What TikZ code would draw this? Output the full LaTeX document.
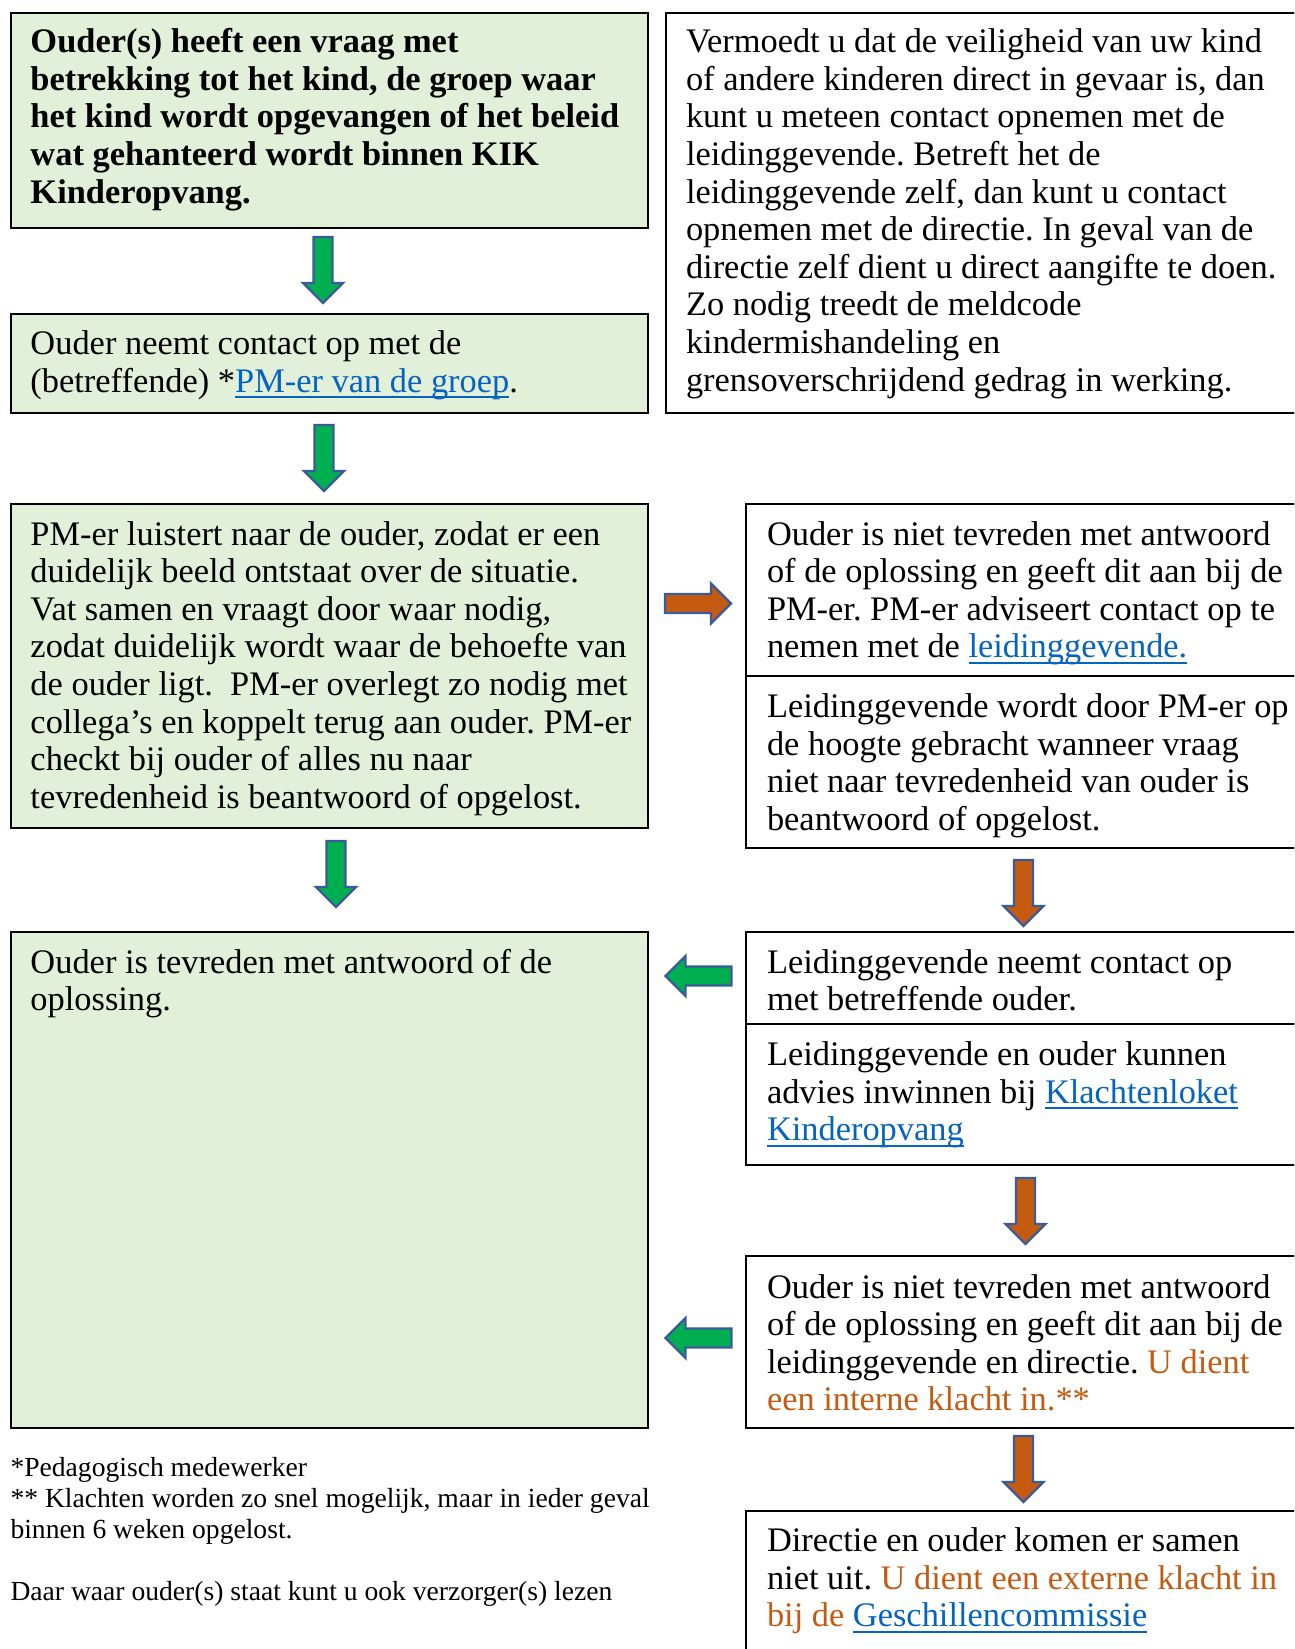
\documentclass[tikz,border=0pt]{standalone}
\usepackage{fontspec}
\setmainfont{Liberation Serif}
\usepackage{xcolor}
\frenchspacing
\definecolor{boxgreen}{HTML}{E2EFD9}
\definecolor{arrgreen}{HTML}{00B050}
\definecolor{arrorange}{HTML}{C55A11}
\definecolor{arrborder}{HTML}{3A5A9A}
\definecolor{linkblue}{HTML}{0563C1}
\definecolor{txtorange}{HTML}{C55A11}
\newcommand{\lnk}[1]{\textcolor{linkblue}{\setbox0\hbox{#1}\rlap{\rule[-6pt]{\wd0}{1.8pt}}\box0}}
\newcommand{\otx}[1]{\textcolor{txtorange}{#1}}
\newcommand{\arrdown}[3]{\draw[blockarrow,fill=#1] (#2-9.5,#3) -- (#2+9.5,#3) -- (#2+9.5,#3+46) -- (#2+20,#3+46) -- (#2,#3+66) -- (#2-20,#3+46) -- (#2-9.5,#3+46) -- cycle;}
\newcommand{\arrright}[3]{\draw[blockarrow,fill=#1] (#2,#3-9.5) -- (#2+46,#3-9.5) -- (#2+46,#3-20) -- (#2+66,#3) -- (#2+46,#3+20) -- (#2+46,#3+9.5) -- (#2,#3+9.5) -- cycle;}
\newcommand{\arrleft}[3]{\draw[blockarrow,fill=#1] (#2,#3) -- (#2+20,#3-20) -- (#2+20,#3-9.5) -- (#2+66,#3-9.5) -- (#2+66,#3+9.5) -- (#2+20,#3+9.5) -- (#2+20,#3+20) -- cycle;}
\begin{document}
\begin{tikzpicture}[x=1pt,y=-1pt,
  box/.style={draw=black,line width=2pt,anchor=north west,inner sep=0,outer sep=0},
  gbox/.style={box,fill=boxgreen},
  txt/.style={inner sep=0,outer sep=0,anchor=base west,align=left,font=\fontsize{34.4}{37.6}\selectfont},
  smalltxt/.style={inner sep=0,outer sep=0,anchor=base west,align=left,font=\fontsize{27.6}{31}\selectfont},
  blockarrow/.style={draw=arrborder,line width=2.4pt,line join=miter}]
\clip (0,0) rectangle (1294,1649);
\fill[white] (0,0) rectangle (1294,1649);
% boxes
\node[gbox,minimum width=637.5pt,minimum height=215.4pt] (b1) at (10.5,12.6) {};
\node[box,fill=white,minimum width=660pt,minimum height=400.8pt] (tr) at (666,12.6) {};
\node[gbox,minimum width=637.5pt,minimum height=99.9pt] (b2) at (10.5,313.5) {};
\node[gbox,minimum width=637.5pt,minimum height=324pt] (b3) at (10.5,504) {};
\node[box,fill=white,minimum width=580pt,minimum height=172pt] (ra) at (746,504) {};
\node[box,fill=white,minimum width=580pt,minimum height=172pt] (rb) at (746,676) {};
\node[gbox,minimum width=637.5pt,minimum height=495.6pt] (b4) at (10.5,932) {};
\node[box,fill=white,minimum width=580pt,minimum height=91.6pt] (rc) at (746,932) {};
\node[box,fill=white,minimum width=580pt,minimum height=141pt] (rd) at (746,1023.6) {};
\node[box,fill=white,minimum width=580pt,minimum height=171.6pt] (re) at (746,1256) {};
\node[box,fill=white,minimum width=580pt,minimum height=200pt] (rf) at (746,1510.7) {};
% texts
\node[txt] (t1) at (30.5,52.6) {\parbox[t]{620pt}{\raggedright\bfseries Ouder(s) heeft een vraag met\\betrekking tot het kind, de groep waar\\het kind wordt opgevangen of het beleid\\wat gehanteerd wordt binnen KIK\\Kinderopvang.}};
\node[txt] (ttr) at (686,52.6) {\parbox[t]{605pt}{\raggedright Vermoedt u dat de veiligheid van uw kind\\of andere kinderen direct in gevaar is, dan\\kunt u meteen contact opnemen met de\\leidinggevende. Betreft het de\\leidinggevende zelf, dan kunt u contact\\opnemen met de directie. In geval van de\\directie zelf dient u direct aangifte te doen.\\Zo nodig treedt de meldcode\\kindermishandeling en\\grensoverschrijdend gedrag in werking.}};
\node[txt] (t2) at (30.5,354.5) {\parbox[t]{620pt}{\raggedright Ouder neemt contact op met de\\(betreffende) *\lnk{PM-er van de groep}.}};
\node[txt] (t3) at (30.5,545) {\parbox[t]{620pt}{\raggedright PM-er luistert naar de ouder, zodat er een\\duidelijk beeld ontstaat over de situatie.\\Vat samen en vraagt door waar nodig,\\zodat duidelijk wordt waar de behoefte van\\de ouder ligt.\ \ PM-er overlegt zo nodig met\\collega’s en koppelt terug aan ouder. PM-er\\checkt bij ouder of alles nu naar\\tevredenheid is beantwoord of opgelost.}};
\node[txt] (tra) at (767,545) {\parbox[t]{540pt}{\raggedright Ouder is niet tevreden met antwoord\\of de oplossing en geeft dit aan bij de\\PM-er. PM-er adviseert contact op te\\nemen met de \lnk{leidinggevende.}}};
\node[txt] (trb) at (767,717.5) {\parbox[t]{540pt}{\raggedright Leidinggevende wordt door PM-er op\\de hoogte gebracht wanneer vraag\\niet naar tevredenheid van ouder is\\beantwoord of opgelost.}};
\node[txt] (t4) at (30.5,973) {\parbox[t]{620pt}{\raggedright Ouder is tevreden met antwoord of de\\oplossing.}};
\node[txt] (trc) at (767,973) {\parbox[t]{540pt}{\raggedright Leidinggevende neemt contact op\\met betreffende ouder.}};
\node[txt] (trd) at (767,1065.6) {\parbox[t]{540pt}{\raggedright Leidinggevende en ouder kunnen\\advies inwinnen bij \lnk{Klachtenloket}\\\lnk{Kinderopvang}}};
\node[txt] (tre) at (767,1298) {\parbox[t]{540pt}{\raggedright Ouder is niet tevreden met antwoord\\of de oplossing en geeft dit aan bij de\\leidinggevende en directie. \otx{U dient}\\\otx{een interne klacht in.**}}};
\node[txt] (trf) at (767,1551.7) {\parbox[t]{540pt}{\raggedright Directie en ouder komen er samen\\niet uit. \otx{U dient een externe klacht in}\\\otx{bij de} \lnk{Geschillencommissie}}};
\node[smalltxt] (fn) at (10.5,1476) {\parbox[t]{660pt}{\raggedright *Pedagogisch medewerker\\\relax** Klachten worden zo snel mogelijk, maar in ieder geval\\binnen 6 weken opgelost.\\[31pt]Daar waar ouder(s) staat kunt u ook verzorger(s) lezen}};
% block arrows
\arrdown{arrgreen}{323}{237}
\arrdown{arrgreen}{324}{425}
\arrright{arrorange}{665}{603.5}
\arrdown{arrgreen}{336}{841}
\arrdown{arrorange}{1023.5}{860}
\arrleft{arrgreen}{665.5}{976}
\arrdown{arrorange}{1025.5}{1178}
\arrleft{arrgreen}{665.5}{1338}
\arrdown{arrorange}{1023.5}{1436}
\end{tikzpicture}
\end{document}
